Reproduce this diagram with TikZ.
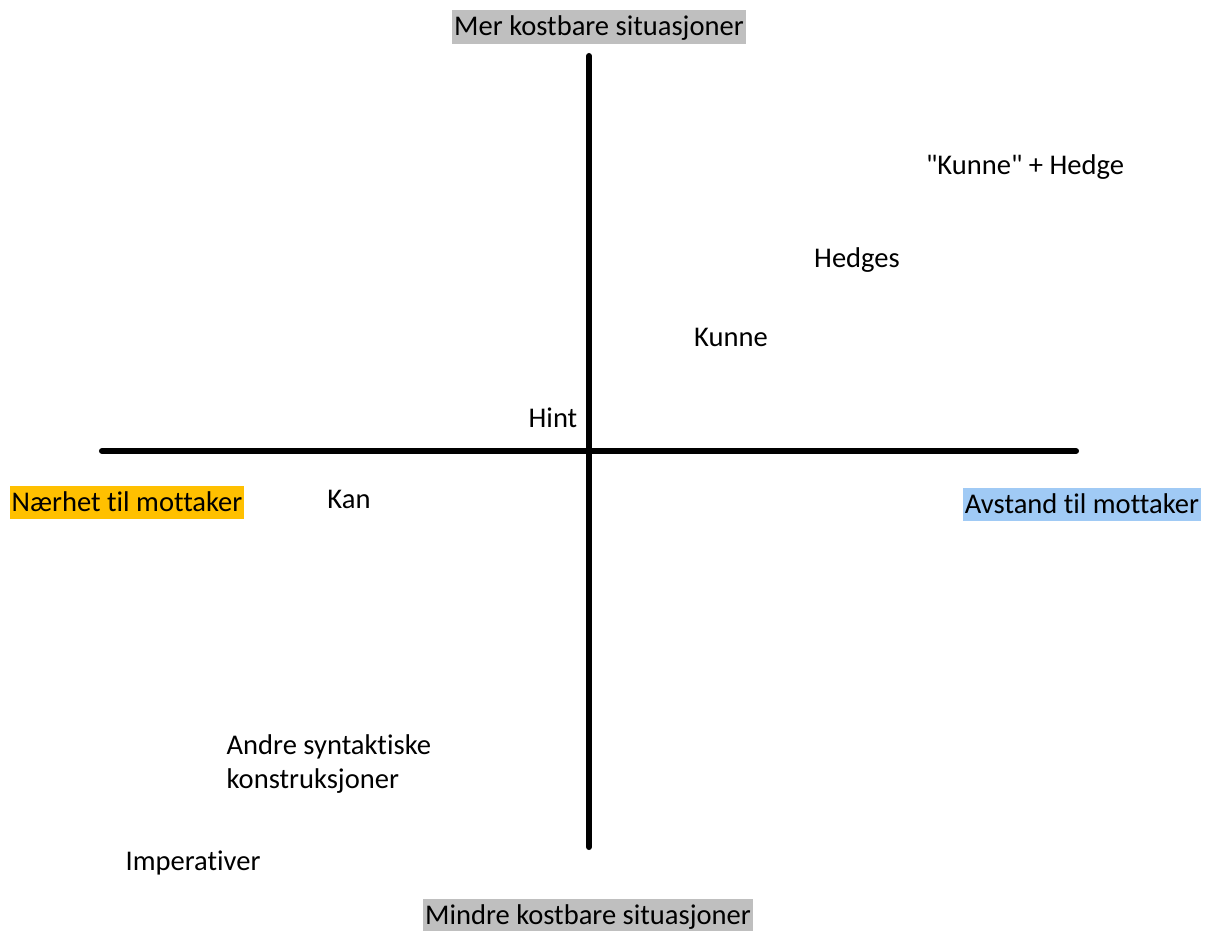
\documentclass[tikz,border=0pt]{standalone}
\usepackage{fontspec}
\setmainfont{Carlito}[Ligatures=NoCommon]
\definecolor{costgrey}{RGB}{191,191,191}
\definecolor{nearorange}{RGB}{255,192,0}
\definecolor{farblue}{RGB}{160,202,245}
\begin{document}
\begin{tikzpicture}[x=0.025cm,y=-0.025cm]
    \tikzstyle{every node}=[font=\fontsize{20.3}{24.8}\selectfont,inner sep=1pt];
    \tikzstyle{axislabel}=[anchor=base,inner xsep=1.5pt,inner ysep=1pt,text height=17pt,text depth=4.9pt];
    \useasboundingbox (0,0) rectangle (1208,930);

    \coordinate (top) at (589,56);
    \coordinate (bottom) at (589,847);
    \coordinate (left) at (102,451);
    \coordinate (right) at (1076,451);
    \draw[line width=4.3pt,line cap=round] (top) -- (bottom);
    \draw[line width=4.3pt,line cap=round] (left) -- (right);

    \node at (599,35.7) (more) [axislabel,fill=costgrey] {Mer kostbare situasjoner};
    \node at (588,924)  (less) [axislabel,fill=costgrey] {Mindre kostbare situasjoner};
    \node at (127,511)  (near) [axislabel,fill=nearorange] {Nærhet til mottaker};
    \node at (1082,513) (far) [axislabel,fill=farblue] {Avstand til mottaker};

    \node at (1025,167) (kunnehedge) {\textquotedbl Kunne\textquotedbl{} + Hedge};
    \node at (857,260)  (hedges) {Hedges};
    \node at (731,337)  (kunne) {Kunne};
    \node at (553,418)  (hint) {Hint};
    \node at (349,499)  (kan) {Kan};
    \node at (225,764)  (andre) [anchor=west,align=left] {Andre syntaktiske\\konstruksjoner};
    \node at (193,863)  (imperativer) {Imperativer};
\end{tikzpicture}
\end{document}
